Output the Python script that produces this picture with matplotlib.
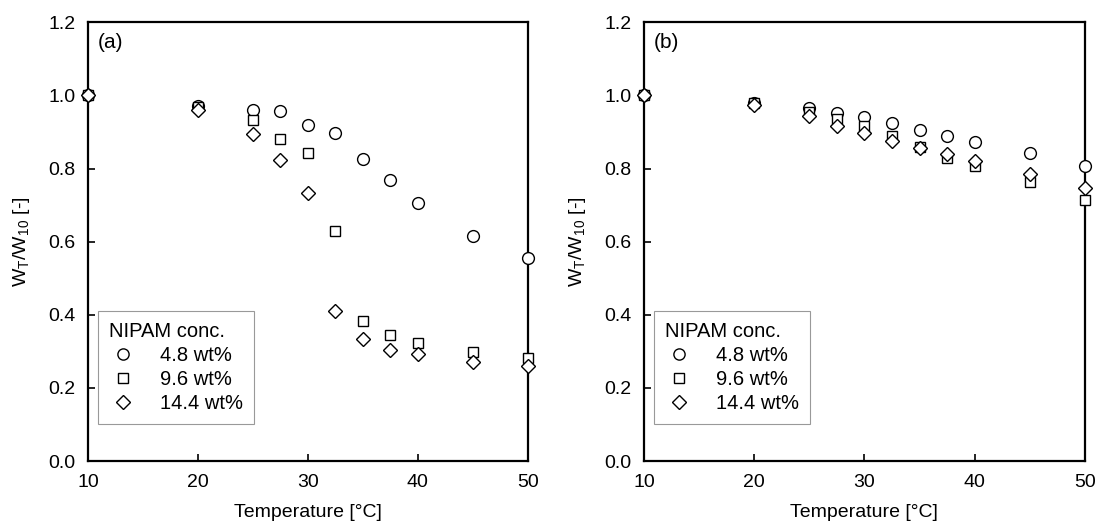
import matplotlib.pyplot as plt

plt.rcParams['font.family'] = ['Liberation Sans', 'DejaVu Sans']

# temperatures [°C]
temp = [10, 20, 25, 27.5, 30, 32.5, 35, 37.5, 40, 45, 50]
labels = ['4.8 wt%', '9.6 wt%', '14.4 wt%']
markers = ['o', 's', 'D']

# panel (a)
a_48 = [1.0, 0.970, 0.960, 0.958, 0.920, 0.897, 0.826, 0.768, 0.706, 0.615, 0.555]
a_96 = [1.0, 0.967, 0.932, 0.880, 0.842, 0.630, 0.384, 0.345, 0.323, 0.298, 0.283]
a_144 = [1.0, 0.960, 0.895, 0.823, 0.733, 0.410, 0.333, 0.305, 0.292, 0.272, 0.260]

# panel (b)
b_48 = [1.0, 0.980, 0.965, 0.952, 0.940, 0.924, 0.905, 0.890, 0.872, 0.842, 0.806]
b_96 = [1.0, 0.978, 0.955, 0.935, 0.915, 0.890, 0.860, 0.830, 0.808, 0.762, 0.714]
b_144 = [1.0, 0.975, 0.945, 0.917, 0.897, 0.875, 0.857, 0.840, 0.820, 0.786, 0.748]

panels = [('(a)', [a_48, a_96, a_144]), ('(b)', [b_48, b_96, b_144])]
sizes = {'o': 8.5, 's': 7.5, 'D': 7.5}

fig = plt.figure(figsize=(10.97, 5.3), dpi=100)
axes = [fig.add_axes([0.0802, 0.130, 0.401, 0.828]),
        fig.add_axes([0.587, 0.130, 0.402, 0.828])]

for ax, (tag, series) in zip(axes, panels):
    for y, m, lab in zip(series, markers, labels):
        ax.plot(temp, y, linestyle='none', marker=m, markersize=sizes[m],
                markerfacecolor='white', markeredgecolor='black',
                markeredgewidth=1.0, label=lab, clip_on=False, zorder=3)
    ax.set_xlim(10, 50)
    ax.set_ylim(0, 1.2)
    ax.set_xticks([10, 20, 30, 40, 50])
    ax.set_yticks([0, 0.2, 0.4, 0.6, 0.8, 1.0, 1.2])
    ax.set_yticklabels(['0.0', '0.2', '0.4', '0.6', '0.8', '1.0', '1.2'])
    ax.tick_params(direction='in', length=5, width=1.2, labelsize=14, pad=9)
    for s in ax.spines.values():
        s.set_linewidth(1.6)
    ax.set_xlabel('Temperature [°C]', fontsize=14, labelpad=10)
    ax.set_ylabel(r'W$_\mathregular{T}$/W$_\mathregular{10}$ [-]', fontsize=14, labelpad=12)
    ax.text(0.022, 0.975, tag, transform=ax.transAxes, fontsize=15, va='top', ha='left')
    leg = ax.legend(title='NIPAM conc.', loc='lower left', bbox_to_anchor=(0.023, 0.084),
                    borderaxespad=0, fontsize=14.5, title_fontsize=14.5, frameon=True,
                    fancybox=False, edgecolor='gray', handletextpad=1.1, borderpad=0.55,
                    labelspacing=0.25, handlelength=1.4, markerscale=0.95)
    leg._legend_box.align = 'left'
    leg.get_frame().set_linewidth(0.8)

fig.savefig('out.png', dpi=100)
